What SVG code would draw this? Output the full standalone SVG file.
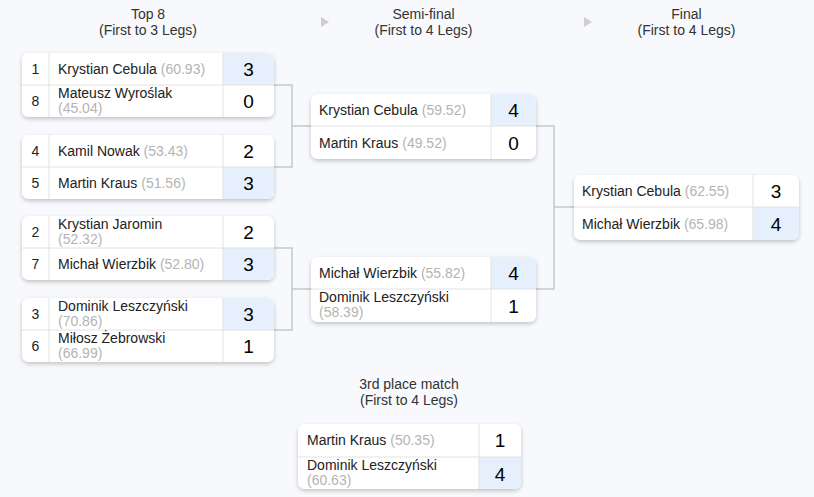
<svg xmlns="http://www.w3.org/2000/svg" width="814" height="497" viewBox="0 0 814 497">
<defs>
<filter id="sh" x="-10%" y="-20%" width="120%" height="150%">
<feDropShadow dx="0" dy="2" stdDeviation="2" flood-color="#000" flood-opacity="0.22"/>
</filter>
</defs>
<style>
text{font-family:"Liberation Sans",Arial,sans-serif;}
.box{fill:#fff;filter:url(#sh);}
.win{fill:#e5f0fc;}
.div{stroke:#e2e2e2;stroke-width:1;fill:none;}
.hd{font-size:14px;fill:#333;text-anchor:middle;}
.nm{font-size:14px;fill:#222;}
.rt{fill:#b4b4b4;}
.sd{font-size:14px;fill:#222;text-anchor:middle;}
.sc{font-size:19px;fill:#000;text-anchor:middle;}
.con{stroke:#c8c8c8;stroke-width:1.5;fill:none;}
.tri{fill:#cfcfcf;}
</style>
<rect width="814" height="497" fill="#f7f9fc"/>

<g id="headers">
<text class="hd" x="148" y="19">Top 8</text>
<text class="hd" x="148" y="35">(First to 3 Legs)</text>
<polygon class="tri" points="321,17 329,22 321,27"/>
<text class="hd" x="423.5" y="19">Semi-final</text>
<text class="hd" x="423.5" y="35">(First to 4 Legs)</text>
<polygon class="tri" points="584,17 592,22 584,27"/>
<text class="hd" x="686.5" y="19">Final</text>
<text class="hd" x="686.5" y="35">(First to 4 Legs)</text>
<text class="hd" x="409" y="389">3rd place match</text>
<text class="hd" x="409" y="405">(First to 4 Legs)</text>
</g>

<g id="connectors">
<path class="con" d="M274,85 H292 V167 H274 M292,126 H311"/>
<path class="con" d="M274,248 H292 V330 H274 M292,289 H311"/>
<path class="con" d="M536,126 H554 V289 H536 M554,207 H574"/>
</g>

<g id="m1" transform="translate(22,53)">
<rect class="box" width="252" height="64" rx="7"/>
<path class="win" d="M201,0 H245 A7,7 0 0 1 252,7 V32 H201 Z"/>
<path class="div" d="M0,32 H252 M27,0 V64 M201,0 V64"/>
<text class="sd" x="13.5" y="21">1</text>
<text class="nm" x="36" y="21">Krystian Cebula <tspan class="rt">(60.93)</tspan></text>
<text class="sc" x="226.5" y="23">3</text>
<text class="sd" x="13.5" y="53">8</text>
<text class="nm" x="36" y="45">Mateusz Wyroślak</text>
<text class="nm rt" x="36" y="60">(45.04)</text>
<text class="sc" x="226.5" y="55">0</text>
</g>

<g id="m2" transform="translate(22,135)">
<rect class="box" width="252" height="64" rx="7"/>
<path class="win" d="M201,32 H252 V57 A7,7 0 0 1 245,64 H201 Z"/>
<path class="div" d="M0,32 H252 M27,0 V64 M201,0 V64"/>
<text class="sd" x="13.5" y="21">4</text>
<text class="nm" x="36" y="21">Kamil Nowak <tspan class="rt">(53.43)</tspan></text>
<text class="sc" x="226.5" y="23">2</text>
<text class="sd" x="13.5" y="53">5</text>
<text class="nm" x="36" y="53">Martin Kraus <tspan class="rt">(51.56)</tspan></text>
<text class="sc" x="226.5" y="55">3</text>
</g>

<g id="m3" transform="translate(22,216)">
<rect class="box" width="252" height="64" rx="7"/>
<path class="win" d="M201,32 H252 V57 A7,7 0 0 1 245,64 H201 Z"/>
<path class="div" d="M0,32 H252 M27,0 V64 M201,0 V64"/>
<text class="sd" x="13.5" y="21">2</text>
<text class="nm" x="36" y="13">Krystian Jaromin</text>
<text class="nm rt" x="36" y="28">(52.32)</text>
<text class="sc" x="226.5" y="23">2</text>
<text class="sd" x="13.5" y="53">7</text>
<text class="nm" x="36" y="53">Michał Wierzbik <tspan class="rt">(52.80)</tspan></text>
<text class="sc" x="226.5" y="55">3</text>
</g>

<g id="m4" transform="translate(22,298)">
<rect class="box" width="252" height="64" rx="7"/>
<path class="win" d="M201,0 H245 A7,7 0 0 1 252,7 V32 H201 Z"/>
<path class="div" d="M0,32 H252 M27,0 V64 M201,0 V64"/>
<text class="sd" x="13.5" y="21">3</text>
<text class="nm" x="36" y="13">Dominik Leszczyński</text>
<text class="nm rt" x="36" y="28">(70.86)</text>
<text class="sc" x="226.5" y="23">3</text>
<text class="sd" x="13.5" y="53">6</text>
<text class="nm" x="36" y="45">Miłosz Żebrowski</text>
<text class="nm rt" x="36" y="60">(66.99)</text>
<text class="sc" x="226.5" y="55">1</text>
</g>

<g id="s1" transform="translate(311,94)">
<rect class="box" width="225" height="65" rx="7"/>
<path class="win" d="M180,0 H218 A7,7 0 0 1 225,7 V32 H180 Z"/>
<path class="div" d="M0,32 H225 M180,0 V65"/>
<text class="nm" x="8" y="21">Krystian Cebula <tspan class="rt">(59.52)</tspan></text>
<text class="sc" x="202.5" y="23">4</text>
<text class="nm" x="8" y="54">Martin Kraus <tspan class="rt">(49.52)</tspan></text>
<text class="sc" x="202.5" y="56">0</text>
</g>

<g id="s2" transform="translate(311,257)">
<rect class="box" width="225" height="65" rx="7"/>
<path class="win" d="M180,0 H218 A7,7 0 0 1 225,7 V32 H180 Z"/>
<path class="div" d="M0,32 H225 M180,0 V65"/>
<text class="nm" x="8" y="21">Michał Wierzbik <tspan class="rt">(55.82)</tspan></text>
<text class="sc" x="202.5" y="23">4</text>
<text class="nm" x="8" y="45">Dominik Leszczyński</text>
<text class="nm rt" x="8" y="60">(58.39)</text>
<text class="sc" x="202.5" y="56">1</text>
</g>

<g id="final" transform="translate(574,175)">
<rect class="box" width="225" height="65" rx="7"/>
<path class="win" d="M179,32 H225 V58 A7,7 0 0 1 218,65 H179 Z"/>
<path class="div" d="M0,32 H225 M179,0 V65"/>
<text class="nm" x="8" y="21">Krystian Cebula <tspan class="rt">(62.55)</tspan></text>
<text class="sc" x="202" y="23">3</text>
<text class="nm" x="8" y="54">Michał Wierzbik <tspan class="rt">(65.98)</tspan></text>
<text class="sc" x="202" y="56">4</text>
</g>

<g id="third" transform="translate(298,424)">
<rect class="box" width="223" height="65" rx="7"/>
<path class="win" d="M181,33 H223 V58 A7,7 0 0 1 216,65 H181 Z"/>
<path class="div" d="M0,33 H223 M181,0 V65"/>
<text class="nm" x="9" y="21">Martin Kraus <tspan class="rt">(50.35)</tspan></text>
<text class="sc" x="202" y="23">1</text>
<text class="nm" x="9" y="46">Dominik Leszczyński</text>
<text class="nm rt" x="9" y="61">(60.63)</text>
<text class="sc" x="202" y="57">4</text>
</g>
</svg>
